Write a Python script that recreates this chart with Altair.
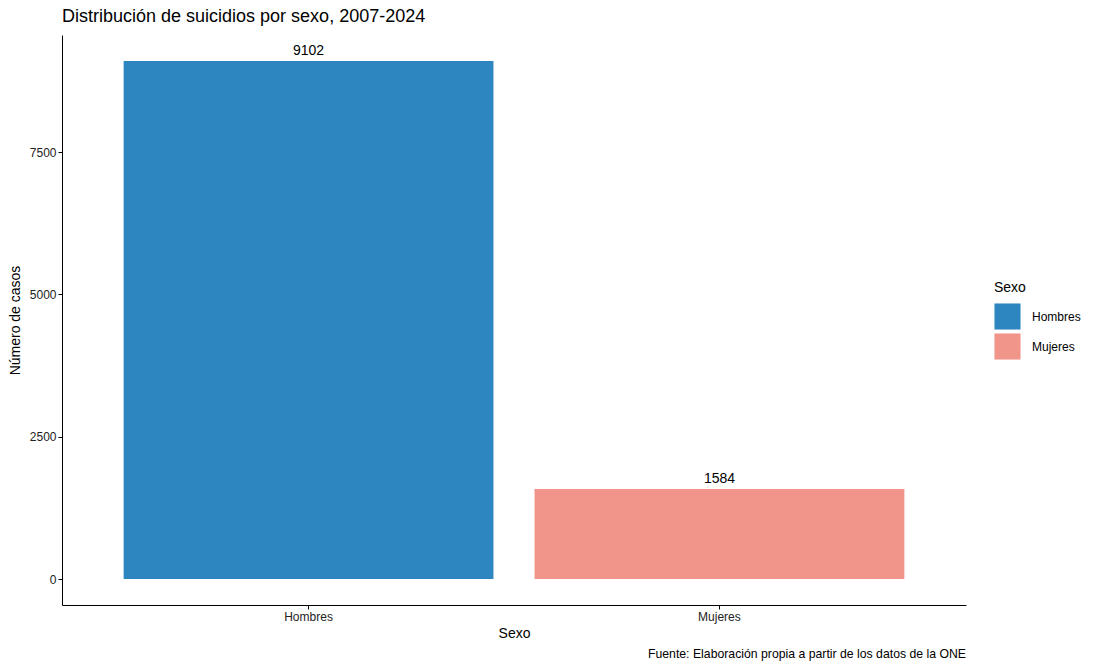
import altair as alt
import pandas as pd

sexo = ["Hombres", "Mujeres"]
casos = [9102, 1584]
colores = ["#2E86C1", "#F1948A"]
titulo = "Distribución de suicidios por sexo, 2007-2024"
fuente = ["Fuente: Elaboración propia a partir de los datos de la ONE"]
ticks_y = [0, 2500, 5000, 7500]

df = pd.DataFrame({"Sexo": sexo, "casos": casos})
df_fuente = pd.DataFrame({"t": fuente})

FONT = "Liberation Sans"

x = alt.X(
    "Sexo:N",
    sort=sexo,
    scale=alt.Scale(paddingInner=0.1, paddingOuter=0.15),
    axis=alt.Axis(labelAngle=0, title="Sexo", titlePadding=4),
)
y = alt.Y(
    "casos:Q",
    scale=alt.Scale(domain=[-455, 9557], nice=False, zero=False),
    axis=alt.Axis(values=ticks_y, title="Número de casos", grid=False, format="d", titlePadding=7),
)

bars = alt.Chart(df).mark_bar().encode(
    x=x,
    y=y,
    y2=alt.datum(0),
    color=alt.Color(
        "Sexo:N",
        scale=alt.Scale(domain=sexo, range=colores),
        legend=alt.Legend(
            title="Sexo",
            orient="none",
            legendX=932,
            legendY=246,
            symbolType="square",
            symbolSize=680,
            symbolStrokeWidth=0,
            symbolOpacity=1,
            titleFontSize=14,
            titleFontWeight="normal",
            titleColor="#000000",
            titlePadding=8,
            labelFontSize=12,
            labelColor="#000000",
            labelOffset=11,
            rowPadding=3,
        ),
    ),
)

labels = alt.Chart(df).mark_text(
    baseline="bottom", dy=-3, fontSize=14, font=FONT, color="#000000"
).encode(x=alt.X("Sexo:N", sort=sexo), y=alt.Y("casos:Q"), text=alt.Text("casos:Q", format="d"))

caption = alt.Chart(df_fuente).mark_text(
    align="right", baseline="middle", fontSize=12.25, font=FONT, color="#000000"
).encode(x=alt.value(904), y=alt.value(619), text="t:N")

chart = (
    alt.layer(bars, labels, caption)
    .properties(
        width=904,
        height=570,
        title=alt.TitleParams(titulo, anchor="start", frame="group", fontSize=18, fontWeight="normal", font=FONT, color="#000000", offset=9),
        autosize=alt.AutoSizeParams(type="none"),
        padding={"left": 54, "top": 27, "right": 123, "bottom": 58},
    )
    .configure(font=FONT, background="white")
    .configure_view(stroke=None)
    .configure_axis(
        domainColor="#000000",
        tickColor="#000000",
        tickSize=4,
        labelPadding=2,
        labelFontSize=12,
        labelColor="#222222",
        titleFontSize=14,
        titleFontWeight="normal",
        titleColor="#000000",
        labelFont=FONT,
        titleFont=FONT,
    )
    .configure_legend(labelFont=FONT, titleFont=FONT)
)

chart.save("out.html", embed_options={"renderer": "svg", "actions": False})
